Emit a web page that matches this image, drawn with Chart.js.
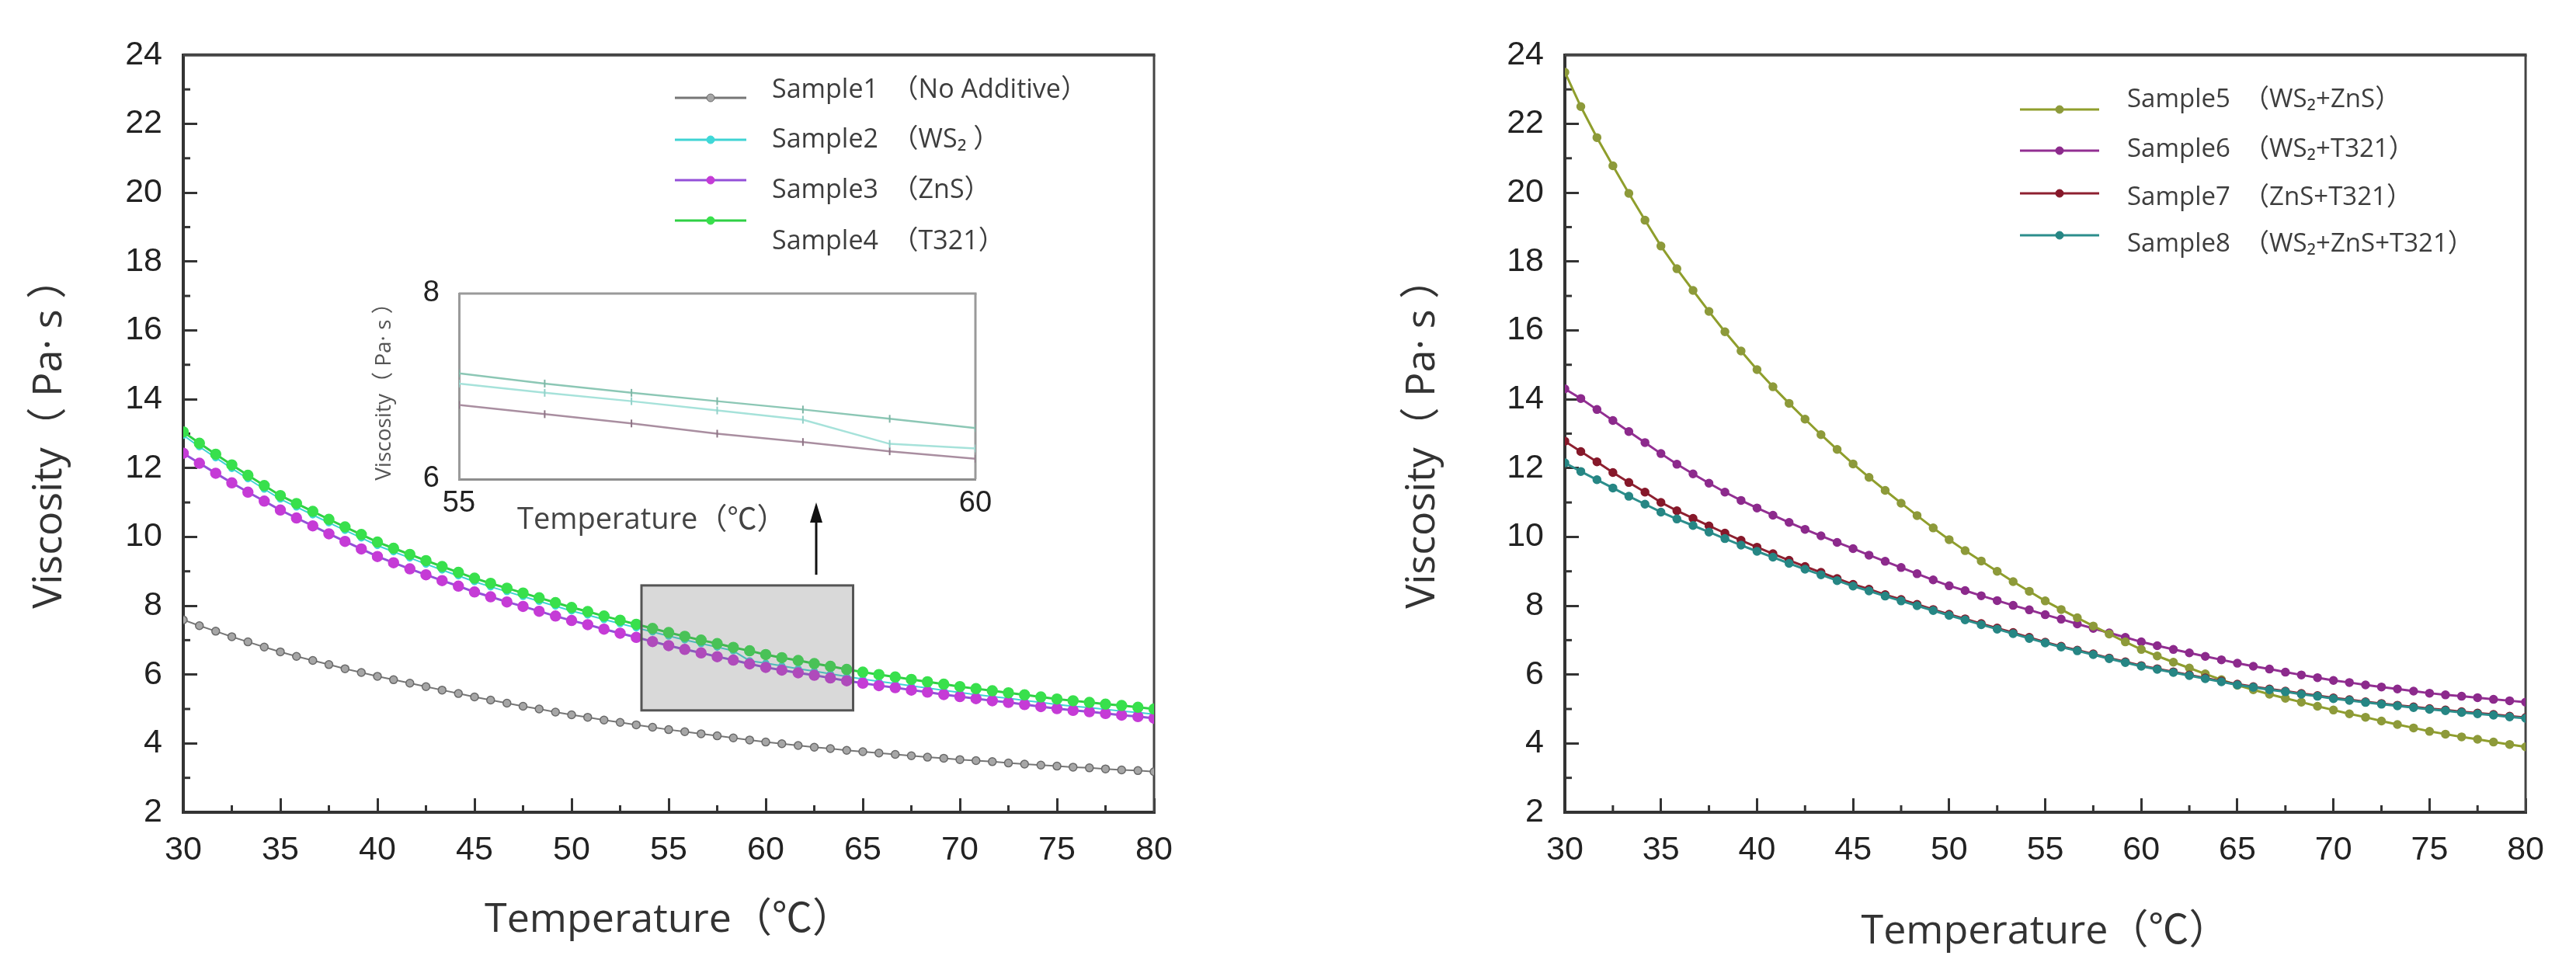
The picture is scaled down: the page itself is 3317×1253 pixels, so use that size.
<!DOCTYPE html>
<html>
<head>
<meta charset="utf-8">
<title>Viscosity vs temperature</title>
<script src="https://cdn.jsdelivr.net/npm/chart.js@4.4.1/dist/chart.umd.min.js"></script>
<style>
  html, body { margin: 0; padding: 0; background: #fff; }
  body { width: 3317px; height: 1253px; position: relative; overflow: hidden; }
  canvas { position: absolute; top: 0; }
  #left { left: 0; }
  #right { left: 1700px; }
  #inset { left: 450px; top: 330px; }
</style>
</head>
<body>
<canvas id="left" width="1700" height="1253"></canvas>
<canvas id="right" width="1617" height="1253"></canvas>
<canvas id="inset" width="850" height="370"></canvas>
<script>
// measuring temperatures (degC)
var temps = [30.00, 30.83, 31.67, 32.50, 33.33, 34.17, 35.00, 35.83, 36.67, 37.50, 38.33, 39.17,
  40.00, 40.83, 41.67, 42.50, 43.33, 44.17, 45.00, 45.83, 46.67, 47.50, 48.33, 49.17,
  50.00, 50.83, 51.67, 52.50, 53.33, 54.17, 55.00, 55.83, 56.67, 57.50, 58.33, 59.17,
  60.00, 60.83, 61.67, 62.50, 63.33, 64.17, 65.00, 65.83, 66.67, 67.50, 68.33, 69.17,
  70.00, 70.83, 71.67, 72.50, 73.33, 74.17, 75.00, 75.83, 76.67, 77.50, 78.33, 79.17, 80.00];

// viscosity (Pa.s), left panel
var sample1 = [7.59, 7.42, 7.26, 7.10, 6.95, 6.80, 6.66, 6.53, 6.41, 6.29, 6.17, 6.06, 5.95,
  5.85, 5.75, 5.65, 5.55, 5.45, 5.35, 5.26, 5.17, 5.08, 5.00, 4.91, 4.83,
  4.76, 4.68, 4.61, 4.54, 4.47, 4.40, 4.34, 4.28, 4.22, 4.16, 4.10, 4.04,
  3.99, 3.94, 3.89, 3.85, 3.80, 3.76, 3.72, 3.68, 3.64, 3.60, 3.57, 3.53,
  3.50, 3.47, 3.43, 3.40, 3.37, 3.34, 3.31, 3.29, 3.26, 3.23, 3.21, 3.18];
var sample2 = [12.95, 12.62, 12.30, 11.99, 11.69, 11.39, 11.10, 10.87, 10.64, 10.41, 10.19, 9.97, 9.75,
  9.57, 9.39, 9.21, 9.04, 8.87, 8.70, 8.55, 8.41, 8.27, 8.13, 7.99, 7.85,
  7.73, 7.60, 7.48, 7.36, 7.24, 7.12, 7.01, 6.90, 6.80, 6.69, 6.40, 6.33,
  6.25, 6.17, 6.10, 6.02, 5.94, 5.87, 5.80, 5.74, 5.67, 5.61, 5.54, 5.48,
  5.42, 5.36, 5.31, 5.25, 5.19, 5.13, 5.08, 5.04, 4.99, 4.94, 4.90, 4.85];
var sample3 = [12.43, 12.14, 11.85, 11.57, 11.30, 11.04, 10.78, 10.55, 10.32, 10.09, 9.87, 9.65, 9.43,
  9.25, 9.07, 8.90, 8.73, 8.57, 8.40, 8.26, 8.11, 7.98, 7.84, 7.70, 7.57,
  7.45, 7.32, 7.20, 7.08, 6.96, 6.84, 6.73, 6.63, 6.52, 6.42, 6.31, 6.21,
  6.13, 6.05, 5.98, 5.90, 5.82, 5.75, 5.68, 5.62, 5.55, 5.49, 5.42, 5.36,
  5.30, 5.24, 5.19, 5.13, 5.07, 5.01, 4.96, 4.92, 4.87, 4.82, 4.78, 4.73];
var sample4 = [13.05, 12.72, 12.40, 12.09, 11.79, 11.49, 11.20, 10.97, 10.74, 10.51, 10.29, 10.07, 9.85,
  9.67, 9.49, 9.31, 9.14, 8.97, 8.80, 8.65, 8.51, 8.37, 8.23, 8.09, 7.95,
  7.83, 7.70, 7.58, 7.46, 7.34, 7.22, 7.11, 7.00, 6.90, 6.79, 6.69, 6.58,
  6.49, 6.41, 6.32, 6.24, 6.15, 6.07, 6.00, 5.93, 5.86, 5.79, 5.72, 5.65,
  5.59, 5.53, 5.47, 5.41, 5.35, 5.29, 5.24, 5.19, 5.14, 5.10, 5.05, 5.00];

// viscosity (Pa.s), right panel
var sample5 = [23.50, 22.50, 21.60, 20.78, 19.98, 19.20, 18.45, 17.79, 17.16, 16.55, 15.96, 15.40, 14.86,
  14.36, 13.88, 13.42, 12.97, 12.54, 12.12, 11.73, 11.35, 10.98, 10.62, 10.26, 9.92,
  9.60, 9.30, 9.00, 8.70, 8.42, 8.14, 7.89, 7.65, 7.41, 7.18, 6.95, 6.73,
  6.54, 6.36, 6.19, 6.02, 5.85, 5.69, 5.56, 5.43, 5.31, 5.20, 5.08, 4.97,
  4.86, 4.76, 4.65, 4.55, 4.45, 4.35, 4.27, 4.19, 4.12, 4.04, 3.97, 3.90];
var sample6 = [14.30, 14.02, 13.70, 13.38, 13.06, 12.74, 12.42, 12.11, 11.83, 11.56, 11.30, 11.06, 10.84,
  10.63, 10.42, 10.22, 10.03, 9.84, 9.66, 9.47, 9.29, 9.11, 8.93, 8.75, 8.58,
  8.44, 8.29, 8.15, 8.01, 7.88, 7.74, 7.61, 7.47, 7.34, 7.21, 7.08, 6.95,
  6.84, 6.73, 6.63, 6.53, 6.43, 6.33, 6.24, 6.16, 6.07, 5.99, 5.91, 5.83,
  5.77, 5.70, 5.64, 5.58, 5.52, 5.46, 5.41, 5.37, 5.33, 5.28, 5.24, 5.20];
var sample7 = [12.78, 12.48, 12.18, 11.87, 11.58, 11.30, 11.00, 10.76, 10.54, 10.32, 10.11, 9.90, 9.70,
  9.51, 9.32, 9.14, 8.97, 8.79, 8.62, 8.48, 8.32, 8.18, 8.04, 7.89, 7.75,
  7.62, 7.48, 7.35, 7.22, 7.08, 6.94, 6.82, 6.71, 6.60, 6.48, 6.37, 6.26,
  6.17, 6.08, 5.99, 5.90, 5.81, 5.72, 5.65, 5.58, 5.52, 5.45, 5.39, 5.32,
  5.27, 5.21, 5.16, 5.11, 5.06, 5.01, 4.97, 4.92, 4.88, 4.84, 4.79, 4.75];
var sample8 = [12.15, 11.90, 11.66, 11.42, 11.18, 10.95, 10.72, 10.52, 10.33, 10.14, 9.95, 9.76, 9.58,
  9.41, 9.23, 9.06, 8.90, 8.73, 8.57, 8.43, 8.28, 8.14, 8.00, 7.86, 7.72,
  7.59, 7.45, 7.32, 7.19, 7.05, 6.92, 6.80, 6.69, 6.58, 6.46, 6.35, 6.24,
  6.15, 6.06, 5.97, 5.88, 5.79, 5.70, 5.63, 5.56, 5.50, 5.43, 5.37, 5.30,
  5.25, 5.19, 5.14, 5.09, 5.04, 4.99, 4.95, 4.90, 4.86, 4.82, 4.77, 4.73];

// zoomed inset, 55-60 degC
var insetTemps = [55.00, 55.83, 56.67, 57.50, 58.33, 59.17, 60.00];
var inset4 = [7.14, 7.03, 6.93, 6.84, 6.75, 6.65, 6.55];
var inset2 = [7.03, 6.93, 6.84, 6.74, 6.64, 6.38, 6.33];
var inset3 = [6.80, 6.70, 6.60, 6.49, 6.40, 6.30, 6.22];

// tick positions
var xMinor = [32.5, 37.5, 42.5, 47.5, 52.5, 57.5, 62.5, 67.5, 72.5, 77.5];
var yMinor = [3, 5, 7, 9, 11, 13, 15, 17, 19, 21, 23];

// zoom window [xmin, xmax, ymin, ymax] and arrow [x, yfrom, yto]
var zoomWindow = [53.6, 64.5, 4.96, 8.59];
var zoomArrow = [62.6, 8.9, 11.0];

var TEXT_FONT = '"Open Sans", "Noto Sans CJK SC", sans-serif';
var TICK_FONT = '"Liberation Sans", Arial, sans-serif';

function pts(xs, ys) {
  return xs.map(function (t, i) { return { x: t, y: ys[i] }; });
}

function marker(ctx, style, x, y, r) {
  ctx.beginPath();
  if (style === 'rectRot') {
    ctx.moveTo(x, y - r); ctx.lineTo(x + r, y); ctx.lineTo(x, y + r); ctx.lineTo(x - r, y);
    ctx.closePath();
  } else {
    ctx.arc(x, y, r, 0, Math.PI * 2);
  }
  ctx.fill();
  ctx.stroke();
}

// legend drawn at fixed spots inside the plot, like the original figure
var sampleLegend = {
  id: 'sampleLegend',
  afterDraw: function (chart, args, o) {
    var ctx = chart.ctx;
    ctx.save();
    chart.data.datasets.forEach(function (ds, i) {
      var ly = o.lineY[i];
      ctx.strokeStyle = ds.borderColor;
      ctx.lineWidth = 3;
      ctx.beginPath();
      ctx.moveTo(o.x0, ly);
      ctx.lineTo(o.x1, ly);
      ctx.stroke();
      ctx.fillStyle = ds.pointBackgroundColor;
      ctx.strokeStyle = ds.pointBorderColor;
      ctx.lineWidth = 1;
      marker(ctx, ds.pointStyle, (o.x0 + o.x1) / 2, ly, 5);
      ctx.fillStyle = '#3d3d3d';
      ctx.font = o.font;
      ctx.textBaseline = 'middle';
      ctx.textAlign = 'left';
      ctx.fillText(ds.label, o.textX, o.textY[i]);
    });
    ctx.restore();
  }
};

// top / right frame lines and the minor ticks
var frame = {
  id: 'frame',
  beforeDatasetsDraw: function (chart, args, o) {
    var a = chart.chartArea, ctx = chart.ctx;
    var xs = chart.scales.x, ys = chart.scales.y;
    ctx.save();
    ctx.strokeStyle = o.color;
    ctx.lineWidth = o.topWidth;
    ctx.beginPath(); ctx.moveTo(a.left, a.top); ctx.lineTo(a.right + o.rightWidth / 2, a.top); ctx.stroke();
    ctx.lineWidth = o.rightWidth;
    ctx.beginPath(); ctx.moveTo(a.right, a.top); ctx.lineTo(a.right, a.bottom); ctx.stroke();
    ctx.strokeStyle = '#333';
    ctx.lineWidth = 3;
    (o.xMinor || []).forEach(function (v) {
      var px = xs.getPixelForValue(v);
      ctx.beginPath(); ctx.moveTo(px, a.bottom); ctx.lineTo(px, a.bottom - 9); ctx.stroke();
    });
    (o.yMinor || []).forEach(function (v) {
      var py = ys.getPixelForValue(v);
      ctx.beginPath(); ctx.moveTo(a.left, py); ctx.lineTo(a.left + 9, py); ctx.stroke();
    });
    ctx.restore();
  }
};

// shaded zoom window + arrow pointing at the inset
var zoomMark = {
  id: 'zoomMark',
  afterDatasetsDraw: function (chart, args, o) {
    if (!o.box) return;
    var ctx = chart.ctx, xs = chart.scales.x, ys = chart.scales.y;
    var x0 = xs.getPixelForValue(o.box[0]), x1 = xs.getPixelForValue(o.box[1]);
    var y0 = ys.getPixelForValue(o.box[3]), y1 = ys.getPixelForValue(o.box[2]);
    ctx.save();
    ctx.fillStyle = 'rgba(120,120,120,0.28)';
    ctx.fillRect(x0, y0, x1 - x0, y1 - y0);
    ctx.strokeStyle = '#555';
    ctx.lineWidth = 3;
    ctx.strokeRect(x0, y0, x1 - x0, y1 - y0);
    var ax = xs.getPixelForValue(o.arrow[0]);
    var ay0 = ys.getPixelForValue(o.arrow[1]), ay1 = ys.getPixelForValue(o.arrow[2]);
    ctx.strokeStyle = '#111';
    ctx.fillStyle = '#111';
    ctx.beginPath(); ctx.moveTo(ax, ay0); ctx.lineTo(ax, ay1 + 20); ctx.stroke();
    ctx.beginPath(); ctx.moveTo(ax, ay1); ctx.lineTo(ax - 8, ay1 + 26); ctx.lineTo(ax + 8, ay1 + 26); ctx.closePath(); ctx.fill();
    ctx.restore();
  }
};

function mainScales(xTitlePad, yTitlePad) {
  return {
    x: {
      type: 'linear', min: 30, max: 80,
      ticks: { stepSize: 5, padding: 41, color: '#222', font: { family: TICK_FONT, size: 43 } },
      grid: { drawOnChartArea: false, tickLength: -18, tickWidth: 3, tickColor: '#333' },
      border: { color: '#333', width: 4 },
      title: { display: true, text: 'Temperature（℃）', color: '#333',
        font: { family: TEXT_FONT, size: 52 }, padding: { top: 0, bottom: xTitlePad } },
      afterFit: function (s) { s.height = 207; }
    },
    y: {
      type: 'linear', min: 2, max: 24,
      ticks: { stepSize: 2, padding: 45, color: '#222', font: { family: TICK_FONT, size: 43 } },
      grid: { drawOnChartArea: false, tickLength: -18, tickWidth: 3, tickColor: '#333' },
      border: { color: '#333', width: 4 },
      title: { display: true, text: 'Viscosity（ Pa· s ）', color: '#333',
        font: { family: TEXT_FONT, size: 52 }, padding: { top: yTitlePad, bottom: 0 } },
      afterFit: function (s) { s.width = 236; }
    }
  };
}

function series(label, data, color, fill, edge, style, radius, width, order) {
  return {
    label: label,
    data: pts(temps, data),
    borderColor: color,
    borderWidth: width,
    pointStyle: style,
    pointRadius: radius,
    pointBackgroundColor: fill,
    pointBorderColor: edge,
    pointBorderWidth: 1.5,
    order: order
  };
}

Chart.defaults.animation = false;

new Chart(document.getElementById('left').getContext('2d'), {
  type: 'line',
  data: {
    datasets: [
      series('Sample1  （No Additive）', sample1, '#767676', '#a6a6a6', '#6a6a6a', 'circle', 5, 2, 2),
      series('Sample2  （WS₂ ）', sample2, '#3fd3d3', '#3fd8d8', '#3fd8d8', 'circle', 4, 2, 3),
      series('Sample3  （ZnS）', sample3, '#9450d8', '#c53bd6', '#c53bd6', 'circle', 6.5, 3, 1),
      series('Sample4  （T321）', sample4, '#2fd044', '#38e04c', '#38e04c', 'circle', 6.5, 3, 0)
    ]
  },
  options: {
    responsive: false,
    events: [],
    layout: { autoPadding: false, padding: { top: 37, left: 0, right: 214, bottom: 0 } },
    scales: mainScales(37, 33),
    plugins: {
      legend: { display: false },
      tooltip: { enabled: false },
      frame: { color: '#444', topWidth: 4, rightWidth: 3, xMinor: xMinor, yMinor: yMinor },
      zoomMark: { box: zoomWindow, arrow: zoomArrow },
      sampleLegend: {
        x0: 869, x1: 961, textX: 994,
        lineY: [126, 180, 232, 284], textY: [116, 180, 245, 311],
        font: '34px ' + TEXT_FONT
      }
    }
  },
  plugins: [frame, zoomMark, sampleLegend]
});

new Chart(document.getElementById('right').getContext('2d'), {
  type: 'line',
  data: {
    datasets: [
      series('Sample5  （WS₂+ZnS）', sample5, '#8f9e2c', '#8d9a3a', '#8d9a3a', 'circle', 5, 3, 2),
      series('Sample6  （WS₂+T321）', sample6, '#922f92', '#8c2a8c', '#8c2a8c', 'circle', 5, 3, 3),
      series('Sample7  （ZnS+T321）', sample7, '#8e2030', '#86182a', '#86182a', 'circle', 5, 3, 1),
      series('Sample8  （WS₂+ZnS+T321）', sample8, '#2c8e8c', '#268684', '#268684', 'circle', 5, 3, 0)
    ]
  },
  options: {
    responsive: false,
    events: [],
    layout: { autoPadding: false, padding: { top: 37, left: 79, right: 51, bottom: 0 } },
    scales: mainScales(22, 22),
    plugins: {
      legend: { display: false },
      tooltip: { enabled: false },
      frame: { color: '#444', topWidth: 4, rightWidth: 3, xMinor: xMinor, yMinor: yMinor },
      sampleLegend: {
        x0: 901, x1: 1003, textX: 1039,
        lineY: [141, 194, 249, 303], textY: [129, 193, 255, 315],
        font: '33px ' + TEXT_FONT
      }
    }
  },
  plugins: [frame, sampleLegend]
});

// inset x-axis title sits left of centre in the original
var insetTitle = {
  id: 'insetTitle',
  afterDraw: function (chart, args, o) {
    var ctx = chart.ctx;
    ctx.save();
    ctx.font = o.size + 'px ' + TEXT_FONT;
    ctx.fillStyle = '#444';
    ctx.textBaseline = 'middle';
    ctx.fillText(o.text, o.x, o.y);
    ctx.restore();
  }
};

function insetLine(data, color, tick) {
  return {
    data: pts(insetTemps, data),
    borderColor: color,
    borderWidth: 2.5,
    pointStyle: 'line',
    rotation: 90,
    pointRadius: 5,
    pointBorderColor: tick,
    pointBorderWidth: 2
  };
}

new Chart(document.getElementById('inset').getContext('2d'), {
  type: 'line',
  data: {
    datasets: [
      insetLine(inset4, '#8cc7b5', '#7fb6a6'),
      insetLine(inset2, '#a6e2da', '#93d0c8'),
      insetLine(inset3, '#a98ea0', '#8d7485')
    ]
  },
  options: {
    responsive: false,
    events: [],
    layout: { autoPadding: false, padding: { top: 48, left: 0, right: 44, bottom: 0 } },
    scales: {
      x: {
        type: 'linear', min: 55, max: 60,
        ticks: { stepSize: 5, padding: 9, color: '#222', font: { family: TICK_FONT, size: 38 } },
        grid: { drawOnChartArea: false, drawTicks: false },
        border: { color: '#8e8e8e', width: 3 },
        afterFit: function (s) { s.height = 83; }
      },
      y: {
        type: 'linear', min: 6, max: 8,
        ticks: { stepSize: 2, padding: 25, color: '#222', font: { family: TICK_FONT, size: 38 } },
        grid: { drawOnChartArea: false, drawTicks: false },
        border: { color: '#9a9a9a', width: 3 },
        title: { display: true, text: 'Viscosity（ Pa· s ）', color: '#555',
          font: { family: TEXT_FONT, size: 28 }, padding: { top: 28, bottom: 0 } },
        afterFit: function (s) { s.width = 141; }
      }
    },
    plugins: {
      legend: { display: false },
      tooltip: { enabled: false },
      frame: { color: '#9a9a9a', topWidth: 3, rightWidth: 3 },
      insetTitle: { text: 'Temperature（℃）', x: 216, y: 340, size: 38 }
    }
  },
  plugins: [frame, insetTitle]
});
</script>
</body>
</html>
